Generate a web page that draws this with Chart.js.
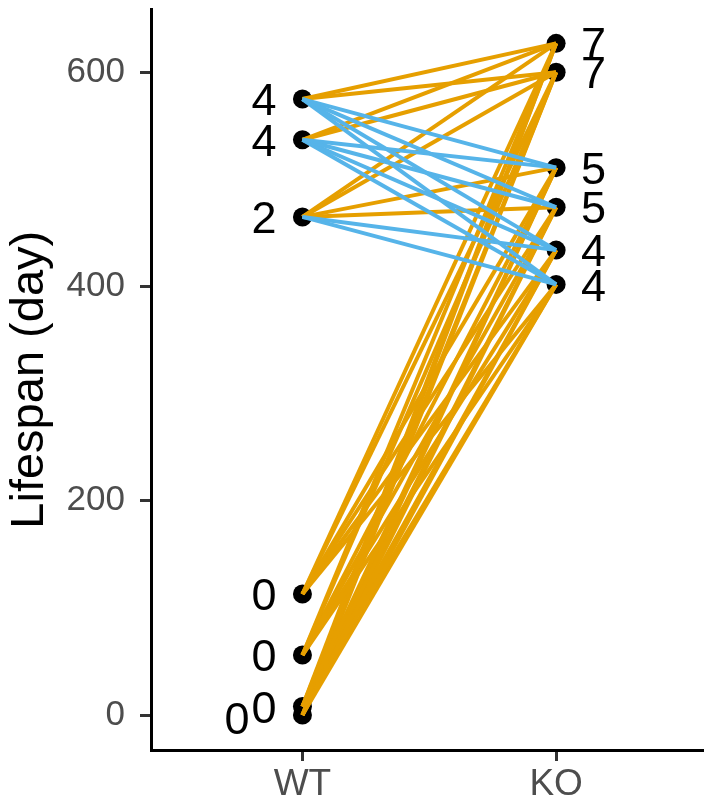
<!DOCTYPE html>
<html>
<head>
<meta charset="utf-8">
<script src="https://cdn.jsdelivr.net/npm/chart.js@4.4.1/dist/chart.umd.min.js"></script>
<style>
  body { margin: 0; background: #fff; }
  #wrap { width: 713px; height: 803px; overflow: hidden; }
</style>
</head>
<body>
<div id="wrap"><canvas id="myChart" width="713" height="803"></canvas></div>
<script>
// data ---------------
const groups = ['WT', 'KO'];
const wtLifespan = [575, 537, 465, 113, 56, 8, 0];
const koLifespan = [627, 600, 511, 474, 434, 402];
const wtLabels = ['4', '4', '2', '0', '0', '0', '0'];
const koLabels = ['7', '7', '5', '5', '4', '4'];
const yTicks = [0, 200, 400, 600];

const orange = '#E69F00';
const blue = '#56B4E9';
const font = '"Liberation Sans", Arial, sans-serif';

// one segment per WT/KO pair, blue ones underneath
const downLines = [];
const upLines = [];
wtLifespan.forEach(w => {
  koLifespan.forEach(k => {
    const up = k > w;
    const ds = {
      data: [{ x: 1, y: w }, { x: 2, y: k }],
      showLine: true,
      borderColor: up ? orange : blue,
      borderWidth: 4,
      pointRadius: 0,
      pointHoverRadius: 0
    };
    (up ? upLines : downLines).push(ds);
  });
});

const pointSets = [
  { data: wtLifespan.map(v => ({ x: 1, y: v })), labels: wtLabels, side: 'left' },
  { data: koLifespan.map(v => ({ x: 2, y: v })), labels: koLabels, side: 'right' }
].map(d => Object.assign(d, {
  showLine: false,
  pointRadius: 9.5,
  pointHoverRadius: 9.5,
  backgroundColor: '#000',
  borderColor: '#000',
  borderWidth: 0
}));

// text next to points, nudged aside when two overlap
const pointLabels = {
  id: 'pointLabels',
  afterDatasetsDraw(chart) {
    const ctx = chart.ctx;
    const size = 45;
    ctx.save();
    ctx.font = size + 'px ' + font;
    ctx.fillStyle = '#000';
    ctx.textBaseline = 'alphabetic';
    chart.data.datasets.forEach((ds, i) => {
      if (!ds.labels) return;
      const left = ds.side === 'left';
      ctx.textAlign = left ? 'right' : 'left';
      let prev = null;
      chart.getDatasetMeta(i).data.forEach((pt, j) => {
        const txt = ds.labels[j];
        let x = left ? pt.x - 26 : pt.x + 25;
        let y = pt.y;
        if (prev && Math.abs(prev.y - y) < 15) {
          const w = ctx.measureText(txt).width;
          x = left ? prev.x - w - 2 : prev.x + w + 2;
          y += 3;
        }
        ctx.fillText(txt, x, y + size * 0.358);
        prev = { x: x, y: y };
      });
    });
    ctx.restore();
  }
};

const ctx = document.getElementById('myChart');

new Chart(ctx, {
  type: 'scatter',
  data: { datasets: downLines.concat(upLines, pointSets) },
  options: {
    responsive: false,
    animation: false,
    events: [],
    layout: { padding: { top: 7, right: 0, bottom: 0, left: 0 } },
    plugins: { legend: { display: false }, tooltip: { enabled: false } },
    scales: {
      x: {
        type: 'linear',
        min: 0.403,
        max: 2.581,
        afterBuildTicks: s => { s.ticks = groups.map((g, i) => ({ value: i + 1 })); },
        afterFit: s => { s.height = 53; s.paddingLeft = 0; s.paddingRight = 0; },
        ticks: {
          callback: v => groups[v - 1],
          color: '#4D4D4D',
          font: { family: font, size: 37 },
          padding: 2,
          maxRotation: 0
        },
        grid: { drawOnChartArea: false, drawTicks: true, tickLength: 11, tickColor: '#333', tickWidth: 3 },
        border: { display: true, color: '#000', width: 3 }
      },
      y: {
        min: -32.6,
        max: 658.6,
        afterBuildTicks: s => { s.ticks = yTicks.map(v => ({ value: v })); },
        afterFit: s => { s.width = 151; s.paddingTop = 0; s.paddingBottom = 0; },
        ticks: {
          color: '#4D4D4D',
          font: { family: font, size: 35 },
          padding: 15
        },
        grid: { drawOnChartArea: false, drawTicks: true, tickLength: 11, tickColor: '#333', tickWidth: 3 },
        border: { display: true, color: '#000', width: 3 },
        title: {
          display: true,
          text: 'Lifespan (day)',
          color: '#000',
          font: { family: font, size: 47 },
          padding: { top: 2, bottom: 0 }
        }
      }
    }
  },
  plugins: [pointLabels]
});
</script>
</body>
</html>
